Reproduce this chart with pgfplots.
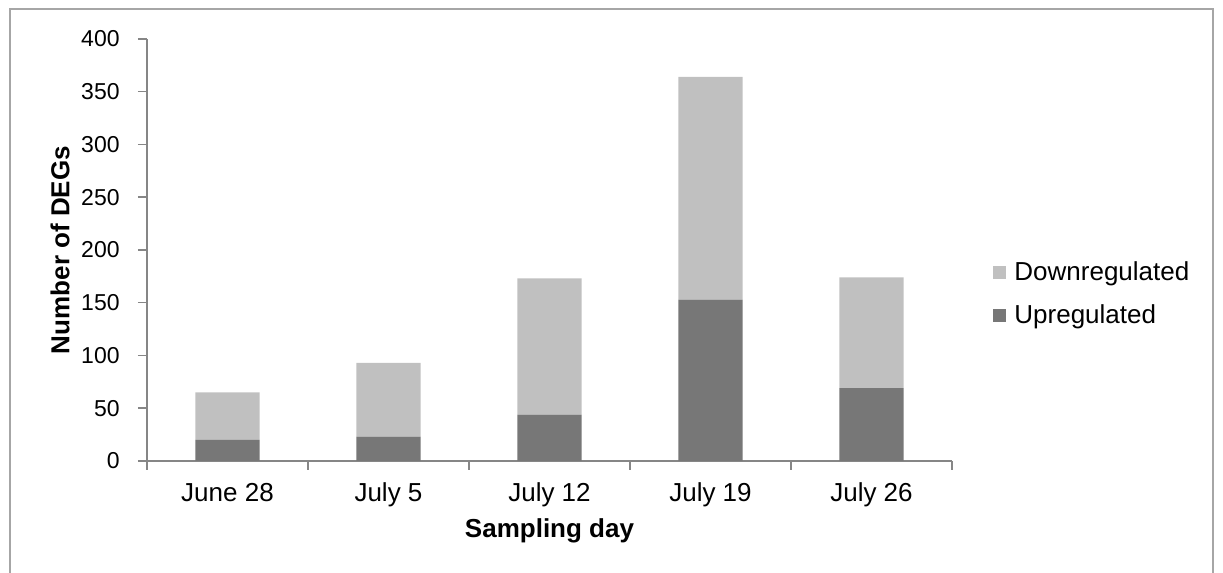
\documentclass[border=0pt]{standalone}
\usepackage{pgfplots}
\pgfplotsset{compat=1.18}
\usepackage{fontspec}
\setmainfont{Liberation Sans}
\definecolor{upc}{HTML}{777777}
\definecolor{downc}{HTML}{C0C0C0}
\definecolor{axc}{HTML}{868686}
\definecolor{framec}{HTML}{A6A6A6}
\begin{document}
\begin{tikzpicture}
\useasboundingbox (-73.5pt,-56pt) rectangle (538pt,230.5pt);
\draw[framec, line width=1pt] (-68.5pt,-60pt) -- (-68.5pt,226pt) -- (533pt,226pt) -- (533pt,-60pt);
\begin{axis}[
    at={(0,0)}, anchor=south west,
    scale only axis, width=402.5pt, height=211pt,
    ybar stacked, bar width=0.4,
    xmin=-0.5, xmax=4.5, ymin=0, ymax=400,
    xtick={0,...,4},
    xticklabels={June 28, July 5, July 12, July 19, July 26},
    minor xtick={-0.5,0.5,1.5,2.5,3.5,4.5},
    ytick={0,50,...,400},
    axis x line=bottom, axis y line=left,
    axis line style={axc, line width=0.75pt, -},
    tick align=outside,
    major tick length=4.5pt, minor tick length=4.5pt,
    tick style={axc, line width=0.75pt},
    major x tick style={draw=none},
    /pgf/number format/assume math mode=true,
    yticklabel style={font=\fontsize{11.5}{13}\selectfont, anchor=east, inner sep=0pt, xshift=-9pt},
    xticklabel style={font=\fontsize{13}{15}\selectfont, anchor=base, inner sep=0pt, yshift=-16pt},
    xlabel={\textbf{Sampling day}},
    ylabel={\textbf{Number of DEGs}},
    x label style={font=\fontsize{13}{15}\selectfont, at={(axis description cs:0.5,0)}, anchor=base, inner sep=0pt, yshift=-38.5pt},
    y label style={font=\fontsize{13}{15}\selectfont, at={(axis description cs:0,0.5)}, anchor=center, yshift=43.5pt},
    legend style={at={(1.051,0.396)}, anchor=west, draw=none, fill=none,
        font=\fontsize{13}{15}\selectfont, row sep=6.5pt, inner sep=0pt,
        /tikz/every odd column/.append style={column sep=2pt}},
    legend cell align=left,
    reverse legend,
    legend image code/.code={\fill[#1] (0pt,-3.25pt) rectangle (6.5pt,3.25pt);},
]
\addplot[fill=upc, draw=none] coordinates {(0,20)(1,23)(2,44)(3,153)(4,69)};
\addplot[fill=downc, draw=none] coordinates {(0,45)(1,70)(2,129)(3,211)(4,105)};
\legend{Upregulated, Downregulated}
\end{axis}
\end{tikzpicture}
\end{document}
